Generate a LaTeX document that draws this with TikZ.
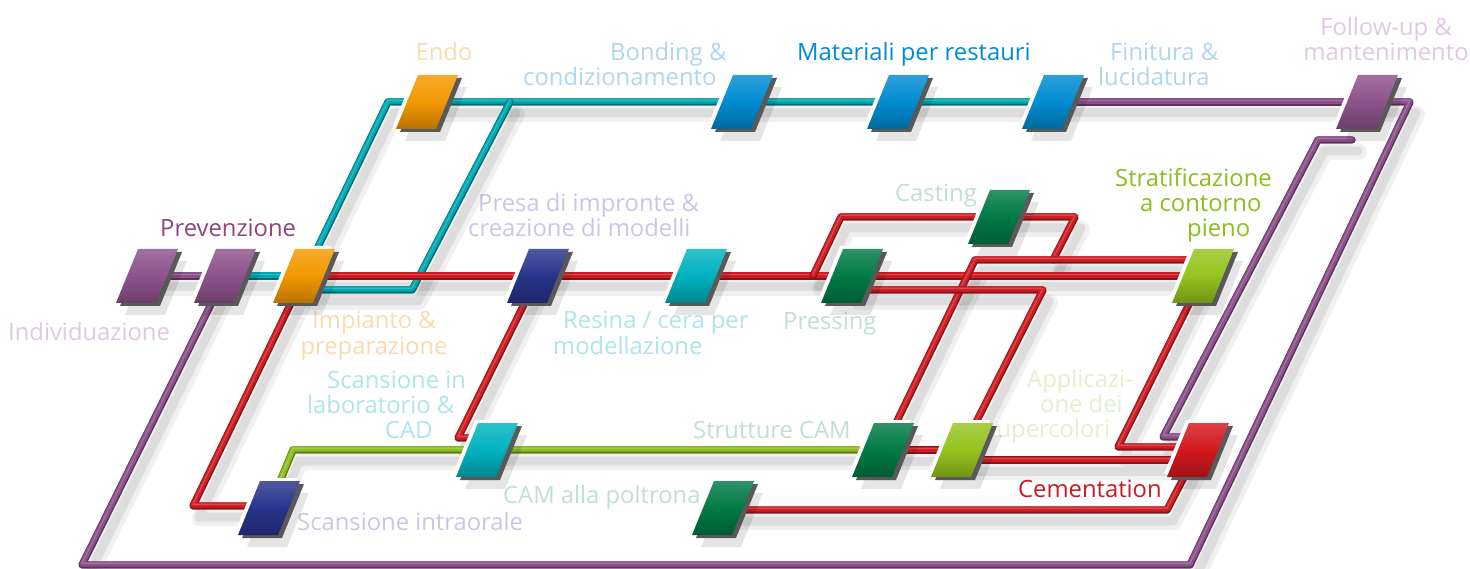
\documentclass[tikz,border=0pt]{standalone}
\usepackage{fontspec}
\setmainfont{Open Sans}
\usetikzlibrary{calc}
\definecolor{cPur}{RGB}{142,80,140}
\definecolor{cTeal}{RGB}{0,168,178}
\definecolor{cRed}{RGB}{208,30,36}
\definecolor{cGrn}{RGB}{140,190,30}
\definecolor{bPurC}{RGB}{142,82,140}
\definecolor{bOra}{RGB}{242,152,0}
\definecolor{bBlu}{RGB}{0,140,210}
\definecolor{bNavy}{RGB}{40,52,140}
\definecolor{bTeal}{RGB}{0,178,192}
\definecolor{bDGrn}{RGB}{0,122,70}
\definecolor{bLime}{RGB}{148,196,30}
\definecolor{bRed}{RGB}{212,24,30}
\definecolor{tOra}{RGB}{250,218,175}
\definecolor{tBlu}{RGB}{175,215,240}
\definecolor{cBlueT}{RGB}{0,140,210}
\definecolor{tPur}{RGB}{225,200,225}
\definecolor{cPurT}{RGB}{140,70,130}
\definecolor{tLav}{RGB}{200,200,230}
\definecolor{tTeal}{RGB}{175,228,235}
\definecolor{tGrn}{RGB}{190,225,210}
\definecolor{cLimeT}{RGB}{140,190,30}
\definecolor{tLime}{RGB}{228,240,205}
\definecolor{cRedT}{RGB}{205,25,35}
\tikzset{
  shadA/.style={draw=black, opacity=0.06, line width=16pt, line join=round, line cap=round,
    transform canvas={shift={(7pt,-12pt)}}},
  shadB/.style={draw=black, opacity=0.08, line width=9pt, line join=round, line cap=round,
    transform canvas={shift={(6pt,-11pt)}}},
  tube/.style={draw=#1!65!black, line width=7.4pt, line join=round, line cap=round,
    postaction={draw=#1, line width=5.2pt, line join=round, line cap=round, transform canvas={shift={(0pt,0.9pt)}}},
    postaction={draw=#1!80!white, line width=1.2pt, line join=round, line cap=round, transform canvas={shift={(0pt,1.8pt)}}}},
  lbl/.style={font=\fontsize{23.8}{25}\selectfont, inner sep=0pt, anchor=base west, align=left},
  pics/blk/.style={code={
    \fill[black,opacity=.10] (0,-15) -- (40,-15) -- (18,39) -- (-22,39) -- cycle;
    \fill[black!65] (-5,-24) -- (35,-24) -- (13,30) -- (-27,30) -- cycle;
    \fill[white] (-12,-30) -- (28,-30) -- (6,24) -- (-34,24) -- cycle;
    \shade[top color=#1!82!white, bottom color=#1!75!black, middle color=#1]
      (-9,-27) -- (31,-27) -- (9,27) -- (-31,27) -- cycle;
  }}
}
\newcommand\routes[1]{%
  \draw[#1=cPur] (bInd) -- (bPrev);
  \draw[#1=cPur] (bPrev) -- (82,565) -- (1190,565) -- (1410,102) -- (bFoll);
  \draw[#1=cPur] (bFin) -- (bFoll);
  \draw[#1=cPur] (1352,140) -- (1318,140) -- (1163,437) -- ($(bCem)+(-10,-13)$);
  \draw[#1=cTeal] (bPrev) -- (bImp);
  \draw[#1=cTeal] (bImp) -- (388,102) -- (bEndo) -- (bBond) -- (bMat) -- (bFin);
  \draw[#1=cTeal] ($(bImp)+(0,14)$) -- (412,290) -- (510,102);
  \draw[#1=cRed] (bImp) -- (bPresa) -- (bRes) -- (bPress) -- (bStrat);
  \draw[#1=cRed] ($(bPress)+(-39,0)$) -- (841,217) -- (bCast) -- (1075,217) -- (1053,260);
  \draw[#1=cRed] ($(bStrat)+(0,-16)$) -- (975,260) -- (bStru);
  \draw[#1=cRed] ($(bPress)+(0,14)$) -- (1043,290) -- (bAppl);
  \draw[#1=cRed] (bStrat) -- (1118,447) -- ($(bCem)+(0,-3)$);
  \draw[#1=cRed] ($(bAppl)+(0,10)$) -- ($(bCem)+(0,10)$);
  \draw[#1=cRed] (bStru) -- (bAppl);
  \draw[#1=cRed] ($(bCamP)+(0,2)$) -- (1167,510) -- (bCem);
  \draw[#1=cRed] (bImp) -- (193,506) -- ($(bIntra)+(0,-2)$);
  \draw[#1=cRed] (bPresa) -- (458,438) -- ($(bLab)+(0,-12)$);
  \draw[#1=cGrn] (bIntra) -- (293,450) -- (bLab) -- (bStru);
}
\begin{document}
\begin{tikzpicture}[x=1pt,y=-1pt]
\useasboundingbox (0,0) rectangle (1470,569);
\fill[white] (0,0) rectangle (1470,569);
% block positions
\coordinate (bInd) at (147,276);
\coordinate (bPrev) at (225,276);
\coordinate (bImp) at (304,276);
\coordinate (bEndo) at (427,102);
\coordinate (bBond) at (742,102);
\coordinate (bMat) at (898,102);
\coordinate (bFin) at (1053,102);
\coordinate (bFoll) at (1367,102);
\coordinate (bPresa) at (538,276);
\coordinate (bRes) at (696,276);
\coordinate (bPress) at (852,276);
\coordinate (bCast) at (999,217);
\coordinate (bStrat) at (1203,276);
\coordinate (bLab) at (487,450);
\coordinate (bIntra) at (269,508);
\coordinate (bCamP) at (723,508);
\coordinate (bStru) at (883,450);
\coordinate (bAppl) at (962,450);
\coordinate (bCem) at (1198,450);
% labels (base = baseline of the last line)
\node[lbl, text=tOra, anchor=base] (tEndo) at (444,61) {Endo};
\node[lbl, text=tBlu] (tBond) at (523,86) {\hspace*{87pt}Bonding \&\\condizionamento};
\node[lbl, text=cBlueT] (tMat) at (797,61) {Materiali per restauri};
\node[lbl, text=tBlu] (tFin) at (1098,86) {\hspace*{12pt}Finitura \&\\lucidatura};
\node[lbl, text=tPur, align=center, anchor=base] (tFol) at (1386,61) {Follow-up \&\\mantenimento};
\node[lbl, text=cPurT] (tPrev) at (160,237) {Prevenzione};
\node[lbl, text=tPur] (tInd) at (8,341) {Individuazione};
\node[lbl, text=tOra, align=center, anchor=base] (tImp) at (374,354) {Impianto \&\\preparazione};
\node[lbl, text=tLav] (tPresa) at (468,237) {\hspace*{10pt}Presa di impronte \&\\creazione di modelli};
\node[lbl, text=tTeal] (tRes) at (553,354) {\hspace*{10pt}Resina / cera per\\modellazione};
\node[lbl, text=tGrn] (tPress) at (783,330) {Pressing};
\node[lbl, text=tGrn] (tCast) at (895,202) {Casting};
\node[lbl, text=cLimeT] (tStrat) at (1115,237) {Stratificazione\\\hspace*{25pt}a contorno\\\hspace*{72pt}pieno};
\node[lbl, text=tTeal] (tLab) at (307,438) {\hspace*{20pt}Scansione in\\laboratorio \&\\\hspace*{78pt}CAD};
\node[lbl, text=tGrn] (tStru) at (693,438) {Strutture CAM};
\node[lbl, text=tLime] (tAppl) at (985,437) {\hspace*{42pt}Applicazi-\\\hspace*{55pt}one dei\\supercolori};
\node[lbl, text=cRedT] (tCem) at (1018,497) {Cementation};
\node[lbl, text=tGrn] (tCamP) at (503,503) {CAM alla poltrona};
\node[lbl, text=tLav] (tIntra) at (297,530) {Scansione intraorale};
% connectors
\routes{shadA}
\routes{shadB}
\routes{tube}
% blocks
\pic at (bInd) {blk=bPurC};
\pic at (bPrev) {blk=bPurC};
\pic at (bImp) {blk=bOra};
\pic at (bEndo) {blk=bOra};
\pic at (bBond) {blk=bBlu};
\pic at (bMat) {blk=bBlu};
\pic at (bFin) {blk=bBlu};
\pic at (bFoll) {blk=bPurC};
\pic at (bPresa) {blk=bNavy};
\pic at (bRes) {blk=bTeal};
\pic at (bPress) {blk=bDGrn};
\pic at (bCast) {blk=bDGrn};
\pic at (bStrat) {blk=bLime};
\pic at (bLab) {blk=bTeal};
\pic at (bIntra) {blk=bNavy};
\pic at (bCamP) {blk=bDGrn};
\pic at (bStru) {blk=bDGrn};
\pic at (bAppl) {blk=bLime};
\pic at (bCem) {blk=bRed};
\end{tikzpicture}
\end{document}
